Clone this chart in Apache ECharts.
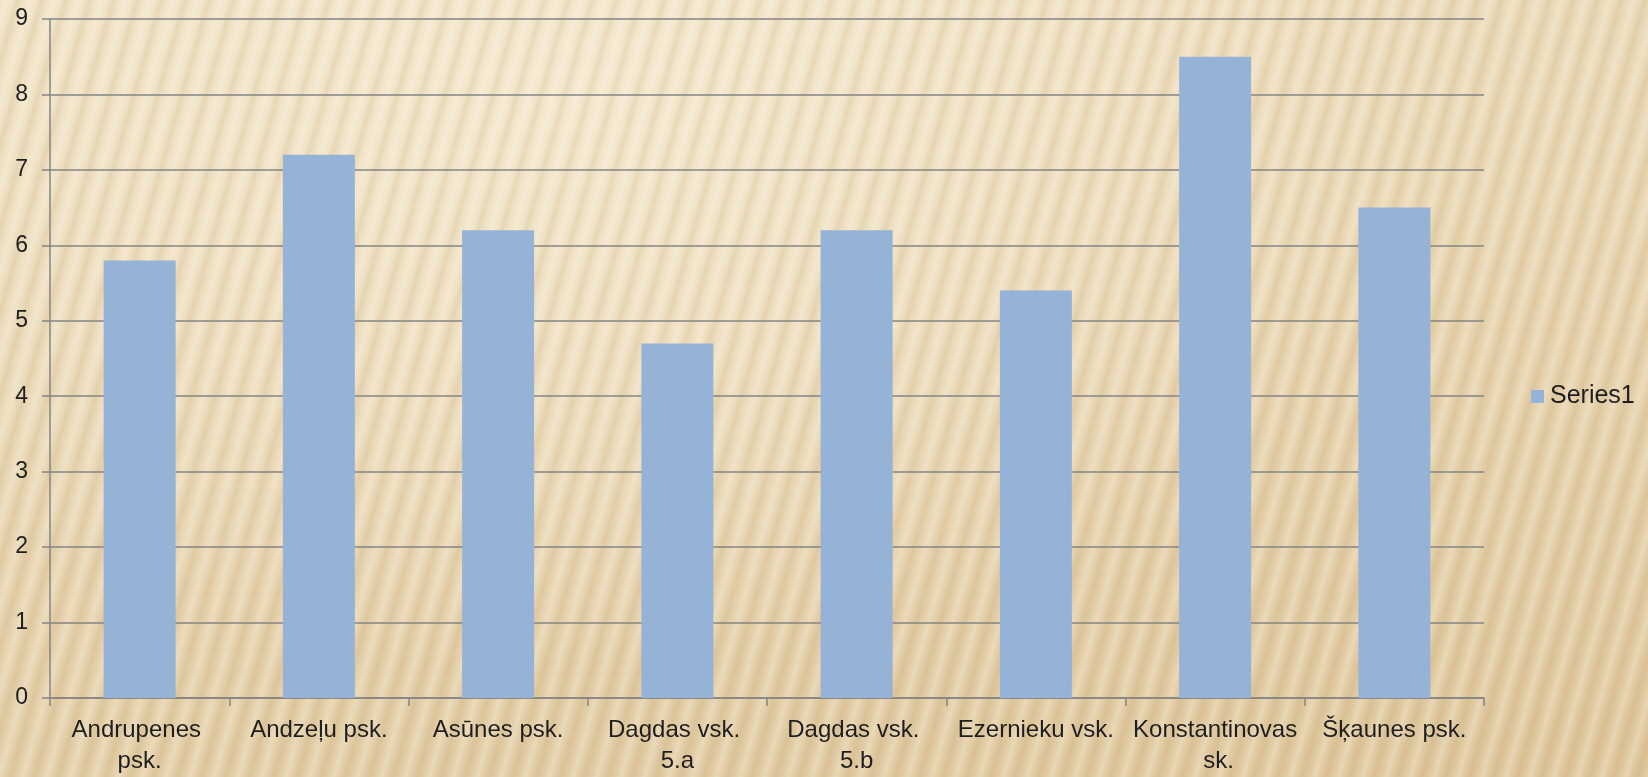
<!DOCTYPE html>
<html>
<head>
<meta charset="utf-8">
<script src="https://cdn.jsdelivr.net/npm/echarts@6/dist/echarts.min.js"></script>
<style>
html,body{margin:0;padding:0;width:1648px;height:777px;overflow:hidden;}
body{
  background:
    repeating-linear-gradient(106deg, rgba(255,250,235,0) 0px, rgba(255,250,235,0.28) 6px, rgba(255,250,235,0) 12px, rgba(170,130,70,0.13) 17px, rgba(255,250,235,0) 23px),
    radial-gradient(ellipse at 35% 10%, rgba(245,234,210,0.8) 0%, rgba(245,234,210,0) 60%),
    linear-gradient(170deg, #eee0c2 0%, #e8d6b3 45%, #dec69c 100%);
}
#chart{width:1648px;height:777px;}
</style>
</head>
<body>
<div id="chart"></div>
<script>
const categories = ["Andrupenes psk.", "Andzeļu psk.", "Asūnes psk.", "Dagdas vsk. 5.a", "Dagdas vsk. 5.b", "Ezernieku vsk.", "Konstantinovas sk.", "Šķaunes psk."];
const series1 = [5.8, 7.2, 6.2, 4.7, 6.2, 5.4, 8.5, 6.5];
const seriesName = "Series1";

const chart = echarts.init(document.getElementById('chart'), null, {renderer:'canvas'});
const axisColor = '#858585';
chart.setOption({
  backgroundColor: 'transparent',
  animation: false,
  textStyle: {fontFamily: '"Liberation Sans", Arial, sans-serif'},
  grid: {left: 50, right: 164, top: 19, bottom: 79},
  legend: {
    data: [seriesName],
    left: 1526, top: 379,
    orient: 'vertical',
    itemWidth: 13, itemHeight: 13, itemGap: 6,
    icon: 'rect',
    textStyle: {fontSize: 25, color: '#1e1e1e', padding: [0,0,0,1]}
  },
  xAxis: {
    type: 'category',
    data: categories,
    boundaryGap: true,
    axisLine: {show: true, lineStyle: {color: axisColor, width: 1.5}},
    axisTick: {show: true, length: 8, alignWithLabel: false, lineStyle: {color: axisColor, width: 1.5}},
    axisLabel: {fontSize: 24, color: '#1e1e1e', margin: 17, lineHeight: 31, width: 168, overflow: 'break', interval: 0}
  },
  yAxis: {
    type: 'value',
    min: 0, max: 9, interval: 1,
    axisLine: {show: true, lineStyle: {color: axisColor, width: 1.5}},
    axisTick: {show: true, length: 8, lineStyle: {color: axisColor, width: 1.5}},
    splitLine: {show: true, lineStyle: {color: axisColor, width: 1.5}},
    axisLabel: {fontSize: 23, color: '#1e1e1e', margin: 22}
  },
  series: [{
    name: seriesName,
    type: 'bar',
    data: series1,
    barWidth: 72,
    itemStyle: {color: '#95b3d6'}
  }]
});
</script>
</body>
</html>
